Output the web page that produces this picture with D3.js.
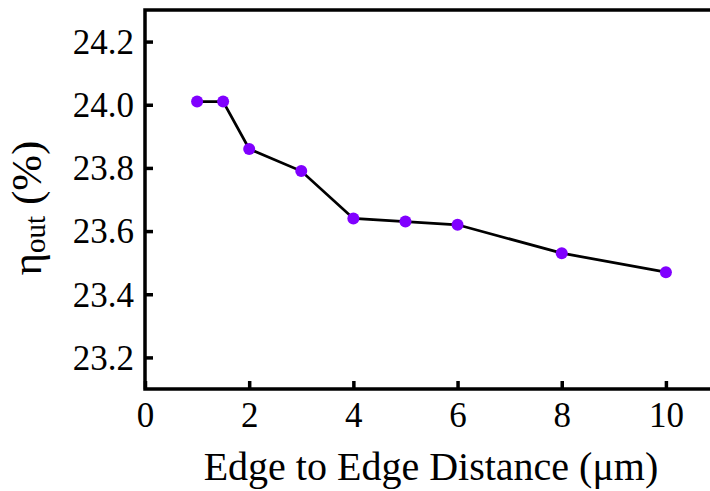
<!DOCTYPE html>
<html>
<head>
<meta charset="utf-8">
<script src="https://cdn.jsdelivr.net/npm/d3@7"></script>
<style>
  html, body { margin: 0; padding: 0; background: #fff; }
  svg { display: block; }
</style>
</head>
<body>
<svg id="chart" width="710" height="491"></svg>
<script>
// Outcoupling efficiency vs. edge-to-edge distance
const distance = [1, 1.5, 2, 3, 4, 5, 6, 8, 10];
const etaOut = [24.01, 24.01, 23.86, 23.79, 23.64, 23.63, 23.62, 23.53, 23.47];
const xTicks = [0, 2, 4, 6, 8, 10];
const yTicks = [23.2, 23.4, 23.6, 23.8, 24.0, 24.2];

const SERIF = "'Liberation Serif', 'Times New Roman', serif";
const svg = d3.select("#chart");
const plot = { left: 145, right: 718, top: 10, bottom: 389 };

const x = d3.scaleLinear().domain([0, 11]).range([plot.left, plot.right]);
const y = d3.scaleLinear().domain([23.1, 24.3]).range([plot.bottom, plot.top]);

// frame
svg.append("rect")
  .attr("x", plot.left).attr("y", plot.top)
  .attr("width", plot.right - plot.left).attr("height", plot.bottom - plot.top)
  .attr("fill", "none").attr("stroke", "#000").attr("stroke-width", 3.5);

// y axis (ticks inside)
const yAxis = svg.append("g").attr("transform", `translate(${plot.left},0)`)
  .call(d3.axisRight(y).tickValues(yTicks).tickSize(8).tickFormat(d3.format(".1f")));
yAxis.attr("font-family", null).attr("font-size", null);
yAxis.select(".domain").remove();
yAxis.selectAll(".tick line").attr("stroke", "#000").attr("stroke-width", 3.5);
yAxis.selectAll(".tick text")
  .attr("x", -11).attr("dy", "0.34em")
  .attr("text-anchor", "end")
  .attr("fill", "#000")
  .style("font-family", SERIF)
  .style("font-size", "35px");

// x axis (ticks inside)
const xAxis = svg.append("g").attr("transform", `translate(0,${plot.bottom})`)
  .call(d3.axisTop(x).tickValues(xTicks).tickSize(8).tickFormat(d3.format("d")));
xAxis.attr("font-family", null).attr("font-size", null);
xAxis.select(".domain").remove();
xAxis.selectAll(".tick line").attr("stroke", "#000").attr("stroke-width", 3.5);
xAxis.selectAll(".tick text")
  .attr("y", 38).attr("dy", 0)
  .attr("text-anchor", "middle")
  .attr("fill", "#000")
  .style("font-family", SERIF)
  .style("font-size", "35px");

// data line and markers
const pts = distance.map((d, i) => [d, etaOut[i]]);
svg.append("path")
  .datum(pts)
  .attr("fill", "none")
  .attr("stroke", "#000")
  .attr("stroke-width", 2.8)
  .attr("d", d3.line().x(d => x(d[0])).y(d => y(d[1])));

svg.selectAll("circle.pt")
  .data(pts)
  .join("circle")
  .attr("class", "pt")
  .attr("cx", d => x(d[0]))
  .attr("cy", d => y(d[1]))
  .attr("r", 6)
  .attr("fill", "#8000ff");

// axis titles
svg.append("text")
  .attr("x", 431).attr("y", 480)
  .attr("text-anchor", "middle")
  .style("font-family", SERIF)
  .style("font-size", "40px")
  .text("Edge to Edge Distance (μm)");

const yl = svg.append("text")
  .attr("transform", "translate(41,208) rotate(-90)")
  .attr("text-anchor", "middle")
  .style("font-family", SERIF)
  .style("font-size", "43px");
yl.append("tspan").text("η");
yl.append("tspan").attr("dy", 4).style("font-size", "29px").text("out");
yl.append("tspan").attr("dy", -4).text(" (%)");
</script>
</body>
</html>
